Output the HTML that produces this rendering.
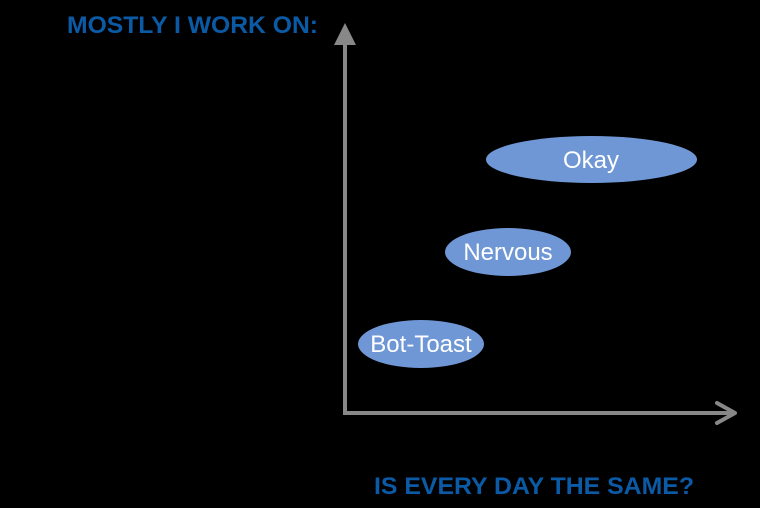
<!DOCTYPE html>
<html><head><style>
html,body{margin:0;padding:0;background:#000;}
svg{display:block;}
</style></head><body>
<svg width="760" height="508" viewBox="0 0 760 508" xmlns="http://www.w3.org/2000/svg">
<rect width="760" height="508" fill="#000"/>
<text x="67" y="33" font-family="Liberation Sans, sans-serif" font-weight="bold" font-size="24" fill="#0b5aa6" textLength="251" lengthAdjust="spacingAndGlyphs">MOSTLY I WORK ON:</text>
<line x1="345" y1="40" x2="345" y2="415" stroke="#888" stroke-width="4"/>
<polygon points="345,23 334,45 356,45" fill="#888"/>
<line x1="343" y1="413" x2="734" y2="413" stroke="#888" stroke-width="4"/>
<polyline points="717,403 735,413 717,423" fill="none" stroke="#888" stroke-width="4" stroke-linecap="round" stroke-linejoin="round"/>
<ellipse cx="591.5" cy="159.5" rx="105.5" ry="23.5" fill="#6f97d5"/>
<ellipse cx="508" cy="252" rx="63" ry="24" fill="#6f97d5"/>
<ellipse cx="421" cy="344" rx="63" ry="24" fill="#6f97d5"/>
<g font-family="Liberation Sans, sans-serif" font-size="24" fill="#fff" text-anchor="middle">
<text x="591" y="168">Okay</text>
<text x="508" y="260">Nervous</text>
<text x="421" y="352">Bot-Toast</text>
</g>
<text x="374" y="494" font-family="Liberation Sans, sans-serif" font-weight="bold" font-size="24" fill="#0b5aa6" textLength="320" lengthAdjust="spacingAndGlyphs">IS EVERY DAY THE SAME?</text>
</svg>
</body></html>
